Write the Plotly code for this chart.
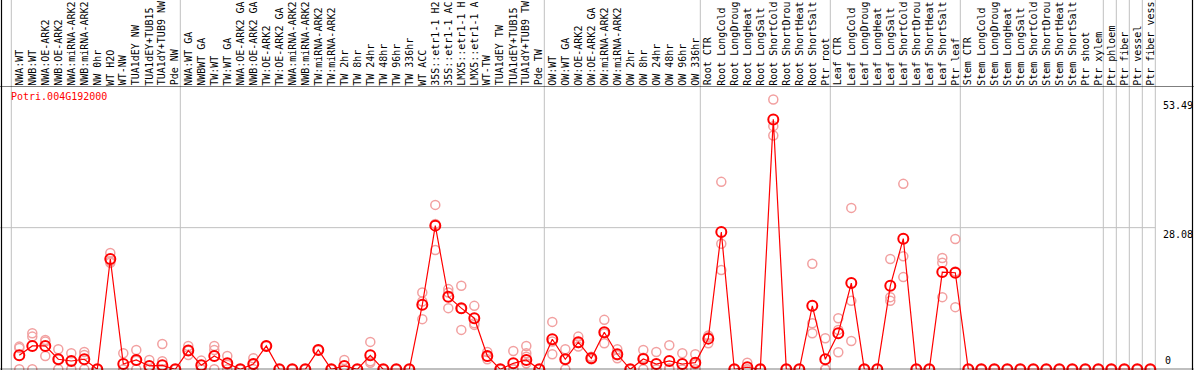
import plotly.graph_objects as go

# ---------------- data ----------------
title = "Potri.004G192000"

categories = [
    "NWA:WT", "NWB:WT", "NWA:OE-ARK2", "NWB:OE-ARK2", "NWA:miRNA-ARK2", "NWB:miRNA-ARK2",
    "NW 0hr", "WT H2O", "WT-NW", "TUA1dEY NW", "TUA1dEY+TUB15", "TUA1dY+TUB9 NW", "Pde NW",
    "NWA:WT GA", "NWBWT GA", "TW:WT", "TW:WT GA", "NWA:OE-ARK2 GA", "NWB:OE-ARK2 GA",
    "TW:OE-ARK2", "TW:OE-ARK2 GA", "NWA:miRNA-ARK2", "NWB:miRNA-ARK2", "TW:miRNA-ARK2",
    "TW:miRNA-ARK2", "TW 2hr", "TW 8hr", "TW 24hr", "TW 48hr", "TW 96hr", "TW 336hr",
    "WT ACC", "35S::etr1-1 H2", "35S::etr1-1 AC", "LMX5::etr1-1 H", "LMX5::etr1-1 A",
    "WT-TW", "TUA1dEY TW", "TUA1dEY+TUB15", "TUA1dY+TUB9 TW", "Pde TW",
    "OW:WT", "OW:WT GA", "OW:OE-ARK2", "OW:OE-ARK2 GA", "OW:miRNA-ARK2", "OW:miRNA-ARK2",
    "OW 2hr", "OW 8hr", "OW 24hr", "OW 48hr", "OW 96hr", "OW 336hr",
    "Root CTR", "Root LongCold", "Root LongDroug", "Root LongHeat", "Root LongSalt",
    "Root ShortCold", "Root ShortDrou", "Root ShortHeat", "Root ShortSalt", "Ptr root",
    "Leaf CTR", "Leaf LongCold", "Leaf LongDroug", "Leaf LongHeat", "Leaf LongSalt",
    "Leaf ShortCold", "Leaf ShortDrou", "Leaf ShortHeat", "Leaf ShortSalt", "Ptr leaf",
    "Stem CTR", "Stem LongCold", "Stem LongDroug", "Stem LongHeat", "Stem LongSalt",
    "Stem ShortCold", "Stem ShortDrou", "Stem ShortHeat", "Stem ShortSalt", "Ptr shoot",
    "Ptr xylem", "Ptr phloem", "Ptr fiber", "Ptr vessel", "Ptr fiber vess",
]

# sizes of the groups separated by vertical grid lines
group_sizes = [13, 28, 12, 10, 10, 11, 1, 1, 1, 1]

mean_values = [
    2.78, 4.63, 4.63, 1.99, 1.65, 1.99, 0, 21.86, 1.05, 1.85, 0.66, 0.79, 0,
    3.71, 0.79, 2.64, 1.19, 0, 1.05, 4.63, 0, 0, 0, 3.84, 0, 0.66, 0, 2.78, 0, 0, 0,
    12.78, 28.48, 14.37, 12.12, 10.13, 2.64, 0, 1.19, 1.85, 0,
    5.96, 1.99, 5.37, 2.18, 7.35, 2.98, 0, 2.05, 1.05, 1.65, 1.05, 1.32,
    6.08, 27.22, 0, 0.4, 0, 49.54, 0, 0, 12.58, 1.99,
    7.15, 17.09, 0, 0, 16.55, 25.9, 0, 0, 19.27, 19.14,
    0, 0, 0, 0, 0, 0, 0, 0, 0, 0, 0, 0, 0, 0, 0,
]

rep1 = [
    4.5, 7.15, 5.82, 3.97, 3.18, 3.44, 0, 23.05, 3.18, 3.84, 1.85, 5.03, 0,
    4.63, 1.72, 4.63, 2.64, 0, 2.18, 4.63, 0, 0, 0, 3.84, 0, 1.85, 0, 5.43, 0, 0, 0,
    15.22, 32.59, 15.9, 16.55, 12.58, 3.44, 0, 3.64, 4.63, 0,
    9.4, 3.97, 6.48, 2.5, 9.8, 3.97, 0, 3.84, 3.44, 4.77, 3.18, 2.98,
    6.68, 37.16, 0, 1.32, 0, 53.49, 0, 0, 20.93, 6.16,
    10.13, 32.0, 0, 0, 21.86, 36.76, 0, 0, 22.06, 25.83,
    0, 0, 0, 0, 0, 0, 0, 0, 0, 0, 0, 0, 0, 0, 0,
]

rep2 = [
    4.2, 6.48, 5.49, 2.0, 1.7, 2.84, 0, 21.4, 0, 1.7, 0, 1.59, 0,
    2.84, 0, 3.84, 0, 0, 0, 4.6, 0, 0, 0, 3.9, 0, 0, 0, 1.59, 0, 0, 0,
    13.43, 28.8, 15.22, 7.81, 9.14, 1.99, 0, 0, 3.18, 0,
    2.98, 0, 4.5, 2.0, 5.17, 2.18, 0, 0, 0, 0, 0, 0,
    5.17, 24.9, 0, 0, 0, 48.2, 0, 0, 9.14, 0,
    7.81, 13.57, 0, 0, 14.3, 22.39, 0, 0, 21.13, 19.4,
    0, 0, 0, 0, 0, 0, 0, 0, 0, 0, 0, 0, 0, 0, 0,
]

rep3 = [
    0, 0, 2.64, 0, 0, 0, 0, 21.13, 0, 0, 0, 0, 0,
    3.7, 0, 0, 0.9, 0, 1.0, 4.65, 0, 0, 0, 3.8, 0, 0, 0, 1.3, 0, 0, 0,
    9.94, 23.65, 12.12, 12.0, 8.8, 2.5, 0, 0, 2.5, 0,
    5.5, 2.0, 5.2, 2.1, 7.1, 2.8, 0, 2.3, 0, 0.2, 0, 1.0,
    6.4, 19.67, 0, 0, 0, 46.36, 0, 0, 7.15, 0,
    3.38, 5.62, 0, 0, 13.57, 18.28, 0, 0, 14.3, 12.32,
    0, 0, 0, 0, 0, 0, 0, 0, 0, 0, 0, 0, 0, 0, 0,
]

rep4 = [None] * 39 + [1.19] + [None] * 48

max_label = 53.49
mid_label = 28.08
y_top = 56.16

# ---------------- layout geometry ----------------
W, H = 1194, 370
step = 13.0              # px per category
first_px = 19.3          # px of first category
x0 = -first_px / step
x1 = x0 + W / step
bottom_px, top_px = 369.3, 86.0
ydom = [1 - bottom_px / H, 1 - top_px / H]

xs = list(range(len(categories)))

fig = go.Figure()

rep_color = "#f2a0a0"
for rep in (rep1, rep2, rep3, rep4):
    fig.add_trace(go.Scatter(
        x=xs, y=rep, mode="markers", cliponaxis=False, showlegend=False,
        marker=dict(symbol="circle-open", size=9, color=rep_color,
                    line=dict(width=1.5, color=rep_color)),
    ))

fig.add_trace(go.Scatter(
    x=xs, y=mean_values, mode="lines+markers", cliponaxis=False, showlegend=False,
    line=dict(color="#ff0000", width=1.2),
    marker=dict(symbol="circle-open", size=10, color="#ff0000",
                line=dict(width=2, color="#ff0000")),
))

shapes = []
grid = "#c0c0c0"
b = 0
bounds = [0]
for g in group_sizes:
    b += g
    bounds.append(b)
sep_off = 8.0 / step
for bd in bounds:
    shapes.append(dict(type="line", xref="x", yref="paper", x0=bd - sep_off, x1=bd - sep_off,
                       y0=0, y1=1, line=dict(color=grid, width=1), layer="below"))
shapes.append(dict(type="line", xref="x", yref="y", x0=x0, x1=bounds[-1] - sep_off,
                   y0=mid_label, y1=mid_label, line=dict(color=grid, width=1), layer="below"))
# black frame
shapes.append(dict(type="line", xref="paper", yref="paper", x0=1.5 / W, x1=1.5 / W, y0=0, y1=1,
                   line=dict(color="black", width=1.2)))
shapes.append(dict(type="line", xref="paper", yref="paper", x0=1192.5 / W, x1=1192.5 / W, y0=0, y1=1,
                   line=dict(color="black", width=1.2)))
shapes.append(dict(type="line", xref="paper", yref="y", x0=0, x1=1, y0=y_top, y1=y_top,
                   line=dict(color="black", width=1.2)))
shapes.append(dict(type="line", xref="paper", yref="y", x0=0, x1=1, y0=0, y1=0,
                   line=dict(color="black", width=1.2)))

mono = "DejaVu Sans Mono"
annotations = []
for i, c in enumerate(categories):
    annotations.append(dict(
        x=i, y=1 - 85.5 / H, xref="x", yref="paper", text=c, textangle=-90,
        showarrow=False, xanchor="center", yanchor="bottom", borderpad=0, borderwidth=0,
        font=dict(family=mono, size=10, color="black"),
    ))
annotations.append(dict(
    x=9.5 / W, y=1 - 90 / H, xref="paper", yref="paper", text=title, showarrow=False,
    xanchor="left", yanchor="top", borderpad=0, font=dict(family=mono, size=10, color="#ff0000"),
))
annotations.append(dict(x=1193.5 / W, y=max_label, xref="paper", yref="y", text=f"{max_label:.2f}",
                        showarrow=False, xanchor="right", yanchor="top", borderpad=0,
                        font=dict(family=mono, size=10, color="black")))
annotations.append(dict(x=1193.5 / W, y=mid_label, xref="paper", yref="y", text=f"{mid_label:.2f}",
                        showarrow=False, xanchor="right", yanchor="top", borderpad=0,
                        font=dict(family=mono, size=10, color="black")))
annotations.append(dict(x=1172 / W, y=0, xref="paper", yref="y", text="0",
                        showarrow=False, xanchor="right", yanchor="bottom", borderpad=0, yshift=2,
                        font=dict(family=mono, size=10, color="black")))

fig.update_layout(
    width=W, height=H, margin=dict(l=0, r=0, t=0, b=0),
    paper_bgcolor="white", plot_bgcolor="white",
    xaxis=dict(range=[x0, x1], domain=[0, 1], showgrid=False, zeroline=False,
               showticklabels=False, showline=False, fixedrange=True),
    yaxis=dict(range=[0, y_top], domain=ydom, showgrid=False, zeroline=False,
               showticklabels=False, showline=False, fixedrange=True),
    shapes=shapes, annotations=annotations, showlegend=False,
)

fig.write_html("out.html", config={"displayModeBar": False},
               post_script="document.body.style.margin='0';document.body.style.overflow='hidden';")
